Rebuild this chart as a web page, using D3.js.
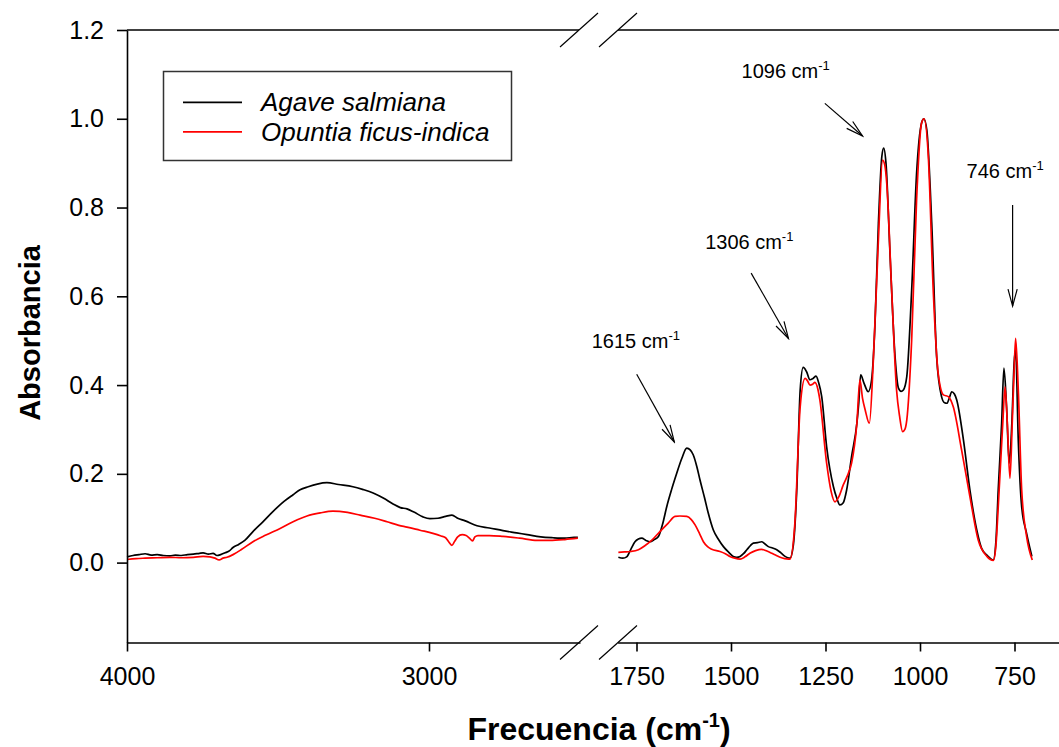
<!DOCTYPE html>
<html>
<head>
<meta charset="utf-8">
<script src="https://cdn.jsdelivr.net/npm/d3@7"></script>
<style>
  html, body { margin: 0; padding: 0; background: #fff; }
  svg { display: block; font-family: "Liberation Sans", Arial, sans-serif; }
</style>
</head>
<body>
<svg id="chart" width="1059" height="747"></svg>
<script>
// ---- FTIR spectra: [wavenumber (cm-1), absorbance] ----
// High-frequency window (4000–2500 cm-1)
const agaveHigh = [[4000,.013],[3980,.016],[3960,.018],[3940,.02],[3920,.017],[3900,.018],[3880,.016],[3858,.015],[3840,.017],[3820,.016],[3800,.018],[3780,.019],[3760,.021],[3748,.022],[3730,.019],[3715,.021],[3702,.016],[3690,.018],[3675,.022],[3660,.027],[3649,.034],[3630,.041],[3610,.05],[3583,.07],[3550,.092],[3517,.115],[3480,.138],[3450,.153],[3427,.164],[3400,.171],[3370,.177],[3338,.18],[3300,.176],[3252,.171],[3220,.165],[3185,.157],[3150,.145],[3119,.132],[3095,.124],[3073,.121],[3050,.114],[3020,.103],[2997,.099],[2970,.1],[2945,.104],[2924,.107],[2905,.1],[2880,.094],[2841,.083],[2800,.078],[2755,.072],[2710,.067],[2675,.063],[2630,.058],[2589,.056],[2550,.055],[2520,.057],[2507,.057]];
const opuntiaHigh = [[4000,.007],[3970,.009],[3940,.01],[3900,.011],[3858,.012],[3820,.011],[3780,.012],[3748,.014],[3725,.013],[3709,.01],[3695,.006],[3682,.01],[3669,.012],[3649,.018],[3620,.03],[3583,.047],[3540,.062],[3493,.077],[3450,.092],[3404,.105],[3360,.112],[3318,.116],[3270,.113],[3228,.107],[3180,.1],[3139,.092],[3100,.084],[3073,.08],[3030,.073],[2987,.066],[2960,.06],[2945,.056],[2935,.047],[2924,.039],[2915,.048],[2905,.058],[2890,.063],[2877,.061],[2866,.055],[2856,.049],[2848,.058],[2838,.061],[2800,.061],[2755,.059],[2700,.055],[2642,.05],[2600,.05],[2550,.052],[2507,.055]];

// Fingerprint window (1800–600 cm-1)
const agaveLow = [[1798,.012],[1786,.01],[1776,.013],[1765,.03],[1754,.047],[1745,.053],[1736,.055],[1725,.05],[1714,.047],[1703,.052],[1692,.059],[1680,.09],[1670,.126],[1657,.165],[1644,.2],[1630,.235],[1617,.258],[1608,.254],[1600,.243],[1590,.215],[1582,.186],[1570,.146],[1560,.111],[1547,.074],[1533,.052],[1520,.036],[1507,.024],[1494,.014],[1485,.012],[1476,.014],[1467,.02],[1458,.029],[1449,.038],[1441,.044],[1430,.045],[1419,.047],[1410,.042],[1401,.036],[1390,.033],[1379,.029],[1368,.022],[1357,.014],[1350,.011],[1344,.01],[1335,.04],[1326,.164],[1317,.389],[1309,.44],[1300,.43],[1291,.412],[1283,.415],[1275,.42],[1268,.405],[1260,.374],[1247,.261],[1229,.171],[1220,.145],[1212,.13],[1203,.135],[1194,.164],[1181,.239],[1167,.314],[1162,.36],[1157,.423],[1148,.404],[1137,.385],[1128,.412],[1119,.539],[1110,.765],[1101,.915],[1096,.934],[1090,.9],[1079,.689],[1066,.464],[1057,.393],[1050,.386],[1044,.389],[1035,.419],[1022,.614],[1009,.877],[996,.99],[990,1.0],[982,.975],[969,.765],[956,.464],[943,.374],[935,.36],[929,.359],[922,.372],[916,.385],[909,.38],[903,.367],[885,.276],[868,.164],[850,.074],[837,.032],[823,.017],[806,.006],[799,.05],[793,.164],[784,.314],[778,.438],[771,.351],[764,.224],[757,.314],[751,.45],[747,.48],[740,.276],[731,.126],[718,.066],[704,.014]];
const opuntiaLow = [[1798,.023],[1782,.024],[1767,.025],[1745,.029],[1728,.038],[1710,.05],[1688,.07],[1666,.089],[1648,.104],[1635,.105],[1617,.104],[1605,.097],[1595,.085],[1583,.065],[1573,.047],[1562,.036],[1551,.03],[1529,.025],[1515,.02],[1503,.014],[1490,.01],[1476,.008],[1463,.013],[1450,.021],[1435,.027],[1419,.03],[1405,.026],[1392,.021],[1380,.016],[1370,.012],[1358,.009],[1348,.008],[1344,.008],[1331,.089],[1317,.351],[1304,.415],[1298,.41],[1291,.4],[1284,.402],[1278,.406],[1270,.39],[1265,.367],[1247,.224],[1235,.16],[1225,.137],[1215,.148],[1203,.175],[1190,.2],[1181,.224],[1167,.314],[1159,.412],[1152,.37],[1145,.344],[1134,.314],[1123,.464],[1110,.728],[1099,.907],[1093,.895],[1088,.855],[1075,.614],[1062,.389],[1054,.33],[1046,.295],[1040,.3],[1035,.321],[1022,.502],[1009,.818],[996,.99],[989,1.0],[978,.915],[965,.614],[952,.427],[938,.378],[925,.374],[912,.351],[890,.254],[868,.149],[846,.051],[823,.014],[806,.005],[799,.04],[793,.126],[781,.314],[775,.396],[769,.314],[762,.19],[756,.314],[751,.43],[747,.505],[740,.389],[731,.164],[718,.059],[703,.006]];

// Axis ticks
const yTicks = [0.0, 0.2, 0.4, 0.6, 0.8, 1.0, 1.2];
const xTicksHigh = [4000, 3000];
const xTicksLow = [1750, 1500, 1250, 1000, 750];

// Legend entries
const seriesNames = ["Agave salmiana", "Opuntia ficus-indica"];
const seriesColors = ["#000000", "#ff0000"];

// Band annotations: label, arrow tip [wavenumber, absorbance]
const bandLabels = ["1615", "1306", "1096", "746"];
const bandTips = [[1650, 0.272], [1348, 0.505], [1152, 0.961], [755, 0.578]];

// ---- layout ----
const svg = d3.select("#chart");
const plotLeft = 127, plotTop = 30, plotBottom = 642.5;
const breakL = 579, breakR = 618;

const xHigh = d3.scaleLinear().domain([4000, 2500]).range([plotLeft, 580]);
const xLow = d3.scaleLinear().domain([1800, 600]).range([617.6, 1071.2]);
const y = d3.scaleLinear().domain([-0.18, 1.2]).range([plotBottom, plotTop]);

const FONT = '"Liberation Sans", Arial, sans-serif';

// spectra
const makeLine = (xs) => d3.line()
  .x(d => xs(d[0]))
  .y(d => y(d[1]))
  .curve(d3.curveMonotoneX);

const plot = svg.append("g");
[[agaveHigh, xHigh, 0], [opuntiaHigh, xHigh, 1], [agaveLow, xLow, 0], [opuntiaLow, xLow, 1]]
  .forEach(([data, xs, i]) => {
    plot.append("path")
      .datum(data)
      .attr("fill", "none")
      .attr("stroke", seriesColors[i])
      .attr("stroke-width", 1.7)
      .attr("stroke-linejoin", "round")
      .attr("d", makeLine(xs));
  });

// ---- axes ----
function styleAxis(g, size) {
  g.select(".domain").attr("stroke", "#000").attr("stroke-width", 1.6);
  g.selectAll(".tick line").attr("stroke", "#000").attr("stroke-width", 1.6);
  g.selectAll(".tick text")
    .attr("fill", "#000")
    .style("font-family", FONT)
    .style("font-size", size + "px");
}

const yAxis = svg.append("g")
  .attr("transform", `translate(${plotLeft},0)`)
  .call(d3.axisLeft(y).tickValues(yTicks).tickFormat(d3.format(".1f"))
    .tickSize(10).tickSizeOuter(0).tickPadding(13));
styleAxis(yAxis, 25);

const xAxisHigh = svg.append("g")
  .attr("transform", `translate(0,${plotBottom})`)
  .call(d3.axisBottom(xHigh).tickValues(xTicksHigh).tickFormat(d3.format("d"))
    .tickSize(9).tickSizeOuter(0).tickPadding(16));
styleAxis(xAxisHigh, 25);

const xAxisLow = svg.append("g")
  .attr("transform", `translate(0,${plotBottom})`)
  .call(d3.axisBottom(xLow).tickValues(xTicksLow).tickFormat(d3.format("d"))
    .tickSize(9).tickSizeOuter(0).tickPadding(16));
styleAxis(xAxisLow, 25);

// top frame, split at the break
svg.append("line").attr("x1", plotLeft).attr("x2", breakL).attr("y1", plotTop).attr("y2", plotTop)
  .attr("stroke", "#000").attr("stroke-width", 1.6);
svg.append("line").attr("x1", breakR).attr("x2", 1059).attr("y1", plotTop).attr("y2", plotTop)
  .attr("stroke", "#000").attr("stroke-width", 1.6);

// axis-break slashes
[plotTop, plotBottom].forEach(yy => {
  [breakL, breakR].forEach(cx => {
    svg.append("line")
      .attr("x1", cx - 19).attr("y1", yy + 17)
      .attr("x2", cx + 19).attr("y2", yy - 17)
      .attr("stroke", "#000").attr("stroke-width", 1.2);
  });
});

// axis titles
svg.append("text")
  .attr("transform", "translate(40,333) rotate(-90)")
  .attr("text-anchor", "middle")
  .style("font-family", FONT).style("font-size", "29px").style("font-weight", "bold")
  .text("Absorbancia");

const xt = svg.append("text")
  .attr("x", 599).attr("y", 740)
  .attr("text-anchor", "middle")
  .style("font-family", FONT).style("font-size", "32px").style("font-weight", "bold");
xt.append("tspan").text("Frecuencia (cm");
xt.append("tspan").attr("dy", -13).style("font-size", "20px").text("-1");
xt.append("tspan").attr("dy", 13).text(")");

// ---- legend ----
const lg = svg.append("g");
lg.append("rect")
  .attr("x", 163.5).attr("y", 71.5).attr("width", 348).attr("height", 89)
  .attr("fill", "#fff").attr("stroke", "#333").attr("stroke-width", 1.5);
seriesNames.forEach((name, i) => {
  const yy = 102.3 + i * 29.5;
  lg.append("line").attr("x1", 183).attr("x2", 242).attr("y1", yy).attr("y2", yy)
    .attr("stroke", seriesColors[i]).attr("stroke-width", 1.7);
  lg.append("text").attr("x", 261).attr("y", yy + 9)
    .style("font-family", FONT).style("font-size", "26px").style("font-style", "italic")
    .text(name);
});

// ---- band annotations ----
svg.append("defs").append("marker")
  .attr("id", "openArrow")
  .attr("markerUnits", "userSpaceOnUse")
  .attr("viewBox", "-20 -8 22 16")
  .attr("markerWidth", 22).attr("markerHeight", 16)
  .attr("refX", 0).attr("refY", 0)
  .attr("orient", "auto")
  .append("path")
  .attr("d", "M-17,-4.6 L0,0 L-17,4.6")
  .attr("fill", "none").attr("stroke", "#000").attr("stroke-width", 1.2);

// arrow tail and label offsets from each tip (pixels)
const tailOffsets = [[-37.6, -67.7], [-37.3, -65.3], [-37.7, -32.7], [0, -101]];
const labelOffsets = [[-82.6, -93.7], [-83.3, -89.3], [-121, -58], [-46, -128]];

bandLabels.forEach((lab, i) => {
  const tx = xLow(bandTips[i][0]), ty = y(bandTips[i][1]);
  svg.append("line")
    .attr("x1", tx + tailOffsets[i][0]).attr("y1", ty + tailOffsets[i][1])
    .attr("x2", tx).attr("y2", ty)
    .attr("stroke", "#000").attr("stroke-width", 1.2)
    .attr("marker-end", "url(#openArrow)");
  const t = svg.append("text")
    .attr("x", tx + labelOffsets[i][0]).attr("y", ty + labelOffsets[i][1])
    .style("font-family", FONT).style("font-size", "20px");
  t.append("tspan").text(lab + " cm");
  t.append("tspan").attr("dy", -8).style("font-size", "13px").text("-1");
});
</script>
</body>
</html>
